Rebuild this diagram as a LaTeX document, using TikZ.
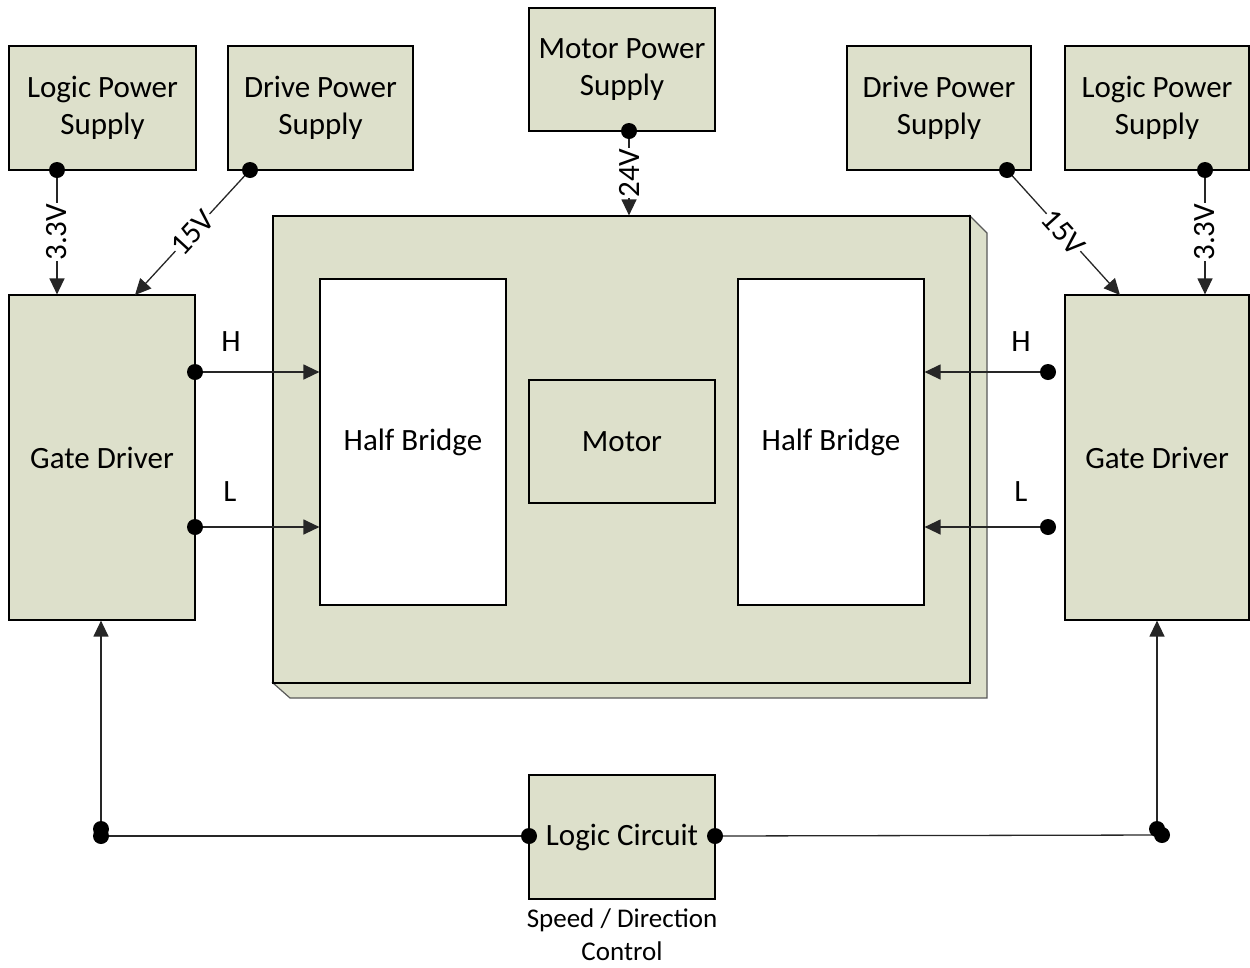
\documentclass[tikz,border=0pt]{standalone}
\usepackage{fontspec}
\setmainfont{Carlito}
\usetikzlibrary{arrows.meta}
\definecolor{boxfill}{RGB}{221,224,203}
\begin{document}
\begin{tikzpicture}[x=1pt,y=-1pt,
  blk/.style={draw=black,line width=1.2pt,fill=boxfill,inner sep=0pt,align=center,font=\fontsize{31}{37}\selectfont},
  wht/.style={blk,fill=white},
  conn/.style={draw=black!85,line width=1.3pt},
  arr/.style={conn,-{Triangle[length=16pt,width=15pt]}},
  dot/.style={circle,fill=black,inner sep=0pt,minimum size=16pt},
  lbl/.style={fill=white,inner sep=0.5pt,font=\fontsize{31}{37}\selectfont},
  txt/.style={inner sep=0pt,font=\fontsize{31}{37}\selectfont},
  captxt/.style={inner sep=0pt,align=center,font=\fontsize{27}{33}\selectfont}
]
\useasboundingbox (0,0) rectangle (1250,967);
% supplies
\node[blk,minimum width=187pt,minimum height=124pt] (lps1) at (102.5,108) {Logic Power\\Supply};
\node[blk,minimum width=185pt,minimum height=124pt] (dps1) at (320.5,108) {Drive Power\\Supply};
\node[blk,minimum width=186pt,minimum height=123pt] (mps) at (622,69.5) {Motor Power\\Supply};
\node[blk,minimum width=184pt,minimum height=124pt] (dps2) at (939,108) {Drive Power\\Supply};
\node[blk,minimum width=184pt,minimum height=124pt] (lps2) at (1157,108) {Logic Power\\Supply};
% gate drivers
\node[blk,minimum width=186pt,minimum height=325pt] (gd1) at (102,457.5) {Gate Driver};
\node[blk,minimum width=184pt,minimum height=325pt] (gd2) at (1157,457.5) {Gate Driver};
% 3D body
\filldraw[fill=boxfill,draw=black!65,line width=1.2pt] (970,216) -- (987,233) -- (987,698) -- (290,698) -- (273,683) -- (970,683) -- cycle;
\node[blk,minimum width=697pt,minimum height=467pt] (body) at (621.5,449.5) {};
\node[wht,minimum width=186pt,minimum height=326pt] (hb1) at (413,442) {Half Bridge};
\node[blk,minimum width=186pt,minimum height=123pt] (motor) at (622,441.5) {Motor};
\node[wht,minimum width=186pt,minimum height=326pt] (hb2) at (831,442) {Half Bridge};
% logic circuit
\node[blk,minimum width=186pt,minimum height=124pt] (lc) at (622,837) {Logic Circuit};
\node[captxt,anchor=north] (capt) at (622,909) {Speed / Direction\\Control};
% supply connectors
\coordinate (s1) at (57,170);
\coordinate (s2) at (250,170);
\coordinate (s3) at (629,131);
\coordinate (s4) at (1007,170);
\coordinate (s5) at (1205,170);
\coordinate (e2) at (135,295);
\coordinate (e4) at (1120,295);
\draw[arr] (s1) -- node[lbl,rotate=90]{3.3V} (s1 |- gd1.north);
\draw[arr] (s2) -- node[lbl,sloped]{15V} (e2);
\draw[arr] (s3) -- node[lbl,rotate=90]{24V} (s3 |- body.north);
\draw[arr] (s4) -- node[lbl,sloped]{15V} (e4);
\draw[arr] (s5) -- node[lbl,rotate=90]{3.3V} (s5 |- gd2.north);
\foreach \c in {s1,s2,s3,s4,s5} \node[dot] at (\c) {};
% H / L
\coordinate (h1) at (195,372);
\coordinate (l1) at (195,527);
\coordinate (h2) at (1048,372);
\coordinate (l2) at (1048,527);
\draw[arr] (h1) -- (h1 -| hb1.west);
\draw[arr] (l1) -- (l1 -| hb1.west);
\draw[arr] (h2) -- (h2 -| hb2.east);
\draw[arr] (l2) -- (l2 -| hb2.east);
\foreach \c in {h1,l1,h2,l2} \node[dot] at (\c) {};
\node[txt] (th1) at (231,342) {H};
\node[txt] (tl1) at (230,492) {L};
\node[txt] (th2) at (1021,342) {H};
\node[txt] (tl2) at (1021,492) {L};
% bottom logic
\coordinate (b1) at (101,829);
\coordinate (b1b) at (101,836);
\coordinate (b2) at (1157,829);
\coordinate (b2b) at (1162,835);
\coordinate (lcw) at (529,836);
\coordinate (lce) at (715,836);
\draw[arr] (b1) -- (b1 |- gd1.south);
\draw[arr] (b2) -- (b2 |- gd2.south);
\draw[conn] (b1b) -- (lcw);
\draw[conn] (lce) -- (b2b);
\foreach \c in {b1,b1b,b2,b2b,lcw,lce} \node[dot] at (\c) {};
\end{tikzpicture}
\end{document}
